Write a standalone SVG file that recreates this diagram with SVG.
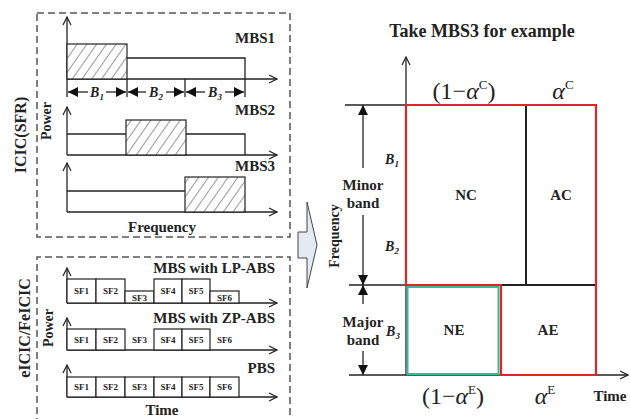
<svg xmlns="http://www.w3.org/2000/svg" width="630" height="419" viewBox="0 0 630 419">
<defs>
<style>
.t{font-family:"Liberation Serif","Times New Roman",serif;font-weight:bold;fill:#222}
.lbl{font-size:15px}
.sf{font-size:9px;text-anchor:middle}
.ax{stroke:#222;stroke-width:1.3;fill:none}
.box{stroke:#222;stroke-width:1.2;fill:#fff}
.dash{stroke:#555;stroke-width:1.5;fill:none;stroke-dasharray:7,4}
.g{font-family:"Liberation Serif","Times New Roman",serif;font-size:24px;fill:#222;text-anchor:middle}
</style>
<marker id="open" viewBox="0 0 10 10" refX="9" refY="5" markerWidth="10" markerHeight="10" markerUnits="userSpaceOnUse" orient="auto">
<polyline points="1,1 9,5 1,9" fill="none" stroke="#222" stroke-width="1.2"/>
</marker>
<marker id="fill" viewBox="0 0 10 10" refX="10" refY="5" markerWidth="10" markerHeight="12" markerUnits="userSpaceOnUse" orient="auto">
<polygon points="0,0 10,5 0,10" fill="#111"/>
</marker>
<pattern id="hatch" patternUnits="userSpaceOnUse" width="8" height="8" patternTransform="rotate(35)">
<rect width="8" height="8" fill="#fff"/>
<line x1="0" y1="0" x2="0" y2="8" stroke="#333" stroke-width="1"/>
</pattern>
</defs>

<!-- left top: ICIC(SFR) -->
<g id="sfr-panel">
<rect class="dash" x="37" y="13" width="253" height="224"/>
<text class="t" font-size="16" transform="translate(26,135) rotate(-90)" text-anchor="middle">ICIC(SFR)</text>
<text class="t" font-size="14" transform="translate(51,121) rotate(-90)" text-anchor="middle">Power</text>
<text class="t lbl" x="162" y="232" text-anchor="middle">Frequency</text>
</g>

<g id="mbs1">
<line class="ax" x1="67" y1="97" x2="67" y2="17" marker-end="url(#open)"/>
<line class="ax" x1="67" y1="79" x2="277" y2="79" marker-end="url(#open)"/>
<rect x="67" y="44" width="60" height="35" fill="url(#hatch)" stroke="#222" stroke-width="1.2"/>
<polyline class="ax" points="127,58 245,58 245,97"/>
<line class="ax" x1="127" y1="79" x2="127" y2="97"/>
<line class="ax" x1="185" y1="79" x2="185" y2="97"/>
<text class="t lbl" x="275" y="43" text-anchor="end">MBS1</text>
<line class="ax" x1="88" y1="92" x2="68" y2="92" marker-end="url(#fill)"/>
<line class="ax" x1="106" y1="92" x2="126" y2="92" marker-end="url(#fill)"/>
<line class="ax" x1="146" y1="92" x2="128" y2="92" marker-end="url(#fill)"/>
<line class="ax" x1="166" y1="92" x2="184" y2="92" marker-end="url(#fill)"/>
<line class="ax" x1="205" y1="92" x2="186" y2="92" marker-end="url(#fill)"/>
<line class="ax" x1="225" y1="92" x2="244" y2="92" marker-end="url(#fill)"/>
<text class="t" font-size="14" x="97" y="97" text-anchor="middle" font-style="italic">B<tspan font-size="9" dy="3">1</tspan></text>
<text class="t" font-size="14" x="156" y="97" text-anchor="middle" font-style="italic">B<tspan font-size="9" dy="3">2</tspan></text>
<text class="t" font-size="14" x="215" y="97" text-anchor="middle" font-style="italic">B<tspan font-size="9" dy="3">3</tspan></text>
</g>

<g id="mbs2">
<line class="ax" x1="67" y1="155" x2="67" y2="107" marker-end="url(#open)"/>
<line class="ax" x1="67" y1="155" x2="277" y2="155" marker-end="url(#open)"/>
<polyline class="ax" points="67,134 126,134"/>
<rect x="126" y="120" width="60" height="35" fill="url(#hatch)" stroke="#222" stroke-width="1.2"/>
<polyline class="ax" points="186,134 245,134 245,155"/>
<text class="t lbl" x="275" y="115" text-anchor="end">MBS2</text>
</g>

<g id="mbs3">
<line class="ax" x1="67" y1="212" x2="67" y2="163" marker-end="url(#open)"/>
<line class="ax" x1="67" y1="212" x2="277" y2="212" marker-end="url(#open)"/>
<polyline class="ax" points="67,191 185,191"/>
<rect x="185" y="177" width="60" height="35" fill="url(#hatch)" stroke="#222" stroke-width="1.2"/>
<text class="t lbl" x="275" y="171" text-anchor="end">MBS3</text>
</g>

<!-- left bottom: eICIC/FeICIC -->
<g id="eicic-panel">
<polyline class="dash" points="37,425 37,257 290,257 290,425"/>
<text class="t" font-size="16" transform="translate(30,328) rotate(-90)" text-anchor="middle">eICIC/FeICIC</text>
<text class="t" font-size="14" transform="translate(53,328) rotate(-90)" text-anchor="middle">Power</text>
<text class="t lbl" x="162" y="415" text-anchor="middle">Time</text>
</g>

<g id="lp-abs">
<line class="ax" x1="67" y1="303" x2="67" y2="268" marker-end="url(#open)"/>
<line class="ax" x1="67" y1="303" x2="277" y2="303" marker-end="url(#open)"/>
<rect class="box" x="67" y="279" width="29" height="24"/>
<rect class="box" x="96" y="279" width="29" height="24"/>
<rect class="box" x="125" y="291" width="29" height="12"/>
<rect class="box" x="154" y="279" width="28" height="24"/>
<rect class="box" x="182" y="279" width="28" height="24"/>
<rect class="box" x="210" y="291" width="29" height="12"/>
<text class="t sf" x="81.5" y="294">SF1</text>
<text class="t sf" x="110.5" y="294">SF2</text>
<text class="t sf" x="139.5" y="301">SF3</text>
<text class="t sf" x="168" y="294">SF4</text>
<text class="t sf" x="196" y="294">SF5</text>
<text class="t sf" x="224.5" y="301">SF6</text>
<text class="t lbl" x="275" y="273" text-anchor="end">MBS with LP-ABS</text>
</g>

<g id="zp-abs">
<line class="ax" x1="67" y1="350" x2="67" y2="318" marker-end="url(#open)"/>
<line class="ax" x1="67" y1="350" x2="277" y2="350" marker-end="url(#open)"/>
<rect class="box" x="67" y="329" width="29" height="21"/>
<rect class="box" x="96" y="329" width="29" height="21"/>
<rect class="box" x="154" y="329" width="28" height="21"/>
<rect class="box" x="182" y="329" width="28" height="21"/>
<text class="t sf" x="81.5" y="343">SF1</text>
<text class="t sf" x="110.5" y="343">SF2</text>
<text class="t sf" x="139.5" y="343">SF3</text>
<text class="t sf" x="168" y="343">SF4</text>
<text class="t sf" x="196" y="343">SF5</text>
<text class="t sf" x="224.5" y="343">SF6</text>
<text class="t lbl" x="275" y="323" text-anchor="end">MBS with ZP-ABS</text>
</g>

<g id="pbs">
<line class="ax" x1="67" y1="397" x2="67" y2="365" marker-end="url(#open)"/>
<line class="ax" x1="67" y1="397" x2="277" y2="397" marker-end="url(#open)"/>
<rect class="box" x="67" y="377" width="29" height="20"/>
<rect class="box" x="96" y="377" width="29" height="20"/>
<rect class="box" x="125" y="377" width="29" height="20"/>
<rect class="box" x="154" y="377" width="28" height="20"/>
<rect class="box" x="182" y="377" width="28" height="20"/>
<rect class="box" x="210" y="377" width="29" height="20"/>
<text class="t sf" x="81.5" y="390">SF1</text>
<text class="t sf" x="110.5" y="390">SF2</text>
<text class="t sf" x="139.5" y="390">SF3</text>
<text class="t sf" x="168" y="390">SF4</text>
<text class="t sf" x="196" y="390">SF5</text>
<text class="t sf" x="224.5" y="390">SF6</text>
<text class="t lbl" x="275" y="373" text-anchor="end">PBS</text>
</g>

<!-- block arrow -->
<g id="block-arrow">
<polygon points="298,232 307,232 307,202 317,245 307,288 307,258 298,258" fill="#e4eaf4" stroke="#444" stroke-width="1"/>
</g>

<!-- right panel -->
<g id="example">
<text class="t" font-size="18" x="482" y="37" text-anchor="middle">Take MBS3 for example</text>
<line class="ax" x1="406" y1="375" x2="406" y2="57" marker-end="url(#open)"/>
<line class="ax" x1="349" y1="375" x2="628" y2="375" marker-end="url(#open)"/>
<line class="ax" x1="345" y1="105" x2="406" y2="105"/>
<line class="ax" x1="349" y1="285" x2="406" y2="285"/>
<text class="t" font-size="14" transform="translate(339,236) rotate(-90)" text-anchor="middle">Frequency</text>
<text class="t lbl" x="610" y="401" text-anchor="middle">Time</text>
</g>

<g id="NC">
<line x1="526" y1="105" x2="526" y2="285" stroke="#222" stroke-width="2"/>
<text class="t lbl" x="466" y="200" text-anchor="middle">NC</text>
</g>
<g id="AC">
<line x1="501" y1="285" x2="596" y2="285" stroke="#222" stroke-width="2"/>
<text class="t lbl" x="561" y="200" text-anchor="middle">AC</text>
</g>
<g id="NE">
<rect x="407.5" y="287" width="91" height="87" fill="none" stroke="#3bb894" stroke-width="2"/>
<text class="t lbl" x="454" y="335" text-anchor="middle">NE</text>
</g>
<g id="AE">
<text class="t lbl" x="548" y="335" text-anchor="middle">AE</text>
</g>
<g id="red-outline">
<polygon points="406,105 596,105 596,375 501,375 501,285 406,285" fill="none" stroke="#e02528" stroke-width="2.2"/>
</g>

<g id="connectors">
<line class="ax" x1="363" y1="168" x2="363" y2="105" marker-end="url(#fill)"/>
<line class="ax" x1="363" y1="215" x2="363" y2="285" marker-end="url(#fill)"/>
<line class="ax" x1="363" y1="304" x2="363" y2="285" marker-end="url(#fill)"/>
<line class="ax" x1="363" y1="351" x2="363" y2="375" marker-end="url(#fill)"/>
</g>

<g id="labels">
<text class="t lbl" x="363" y="190" text-anchor="middle">Minor</text>
<text class="t lbl" x="363" y="208" text-anchor="middle">band</text>
<text class="t lbl" x="363" y="327" text-anchor="middle">Major</text>
<text class="t lbl" x="363" y="345" text-anchor="middle">band</text>
<text class="t" font-size="14" x="392" y="164" text-anchor="middle" font-style="italic">B<tspan font-size="9" dy="3">1</tspan></text>
<text class="t" font-size="14" x="392" y="251" text-anchor="middle" font-style="italic">B<tspan font-size="9" dy="3">2</tspan></text>
<text class="t" font-size="14" x="393" y="336" text-anchor="middle" font-style="italic">B<tspan font-size="9" dy="3">3</tspan></text>
<text class="g" x="464" y="99">(1−<tspan font-style="italic">α</tspan><tspan font-size="13" dy="-10">C</tspan><tspan dy="10">)</tspan></text>
<text class="g" x="563" y="99"><tspan font-style="italic">α</tspan><tspan font-size="13" dy="-10">C</tspan></text>
<text class="g" x="453" y="404">(1−<tspan font-style="italic">α</tspan><tspan font-size="13" dy="-10">E</tspan><tspan dy="10">)</tspan></text>
<text class="g" x="545" y="404"><tspan font-style="italic">α</tspan><tspan font-size="13" dy="-10">E</tspan></text>
</g>
</svg>
